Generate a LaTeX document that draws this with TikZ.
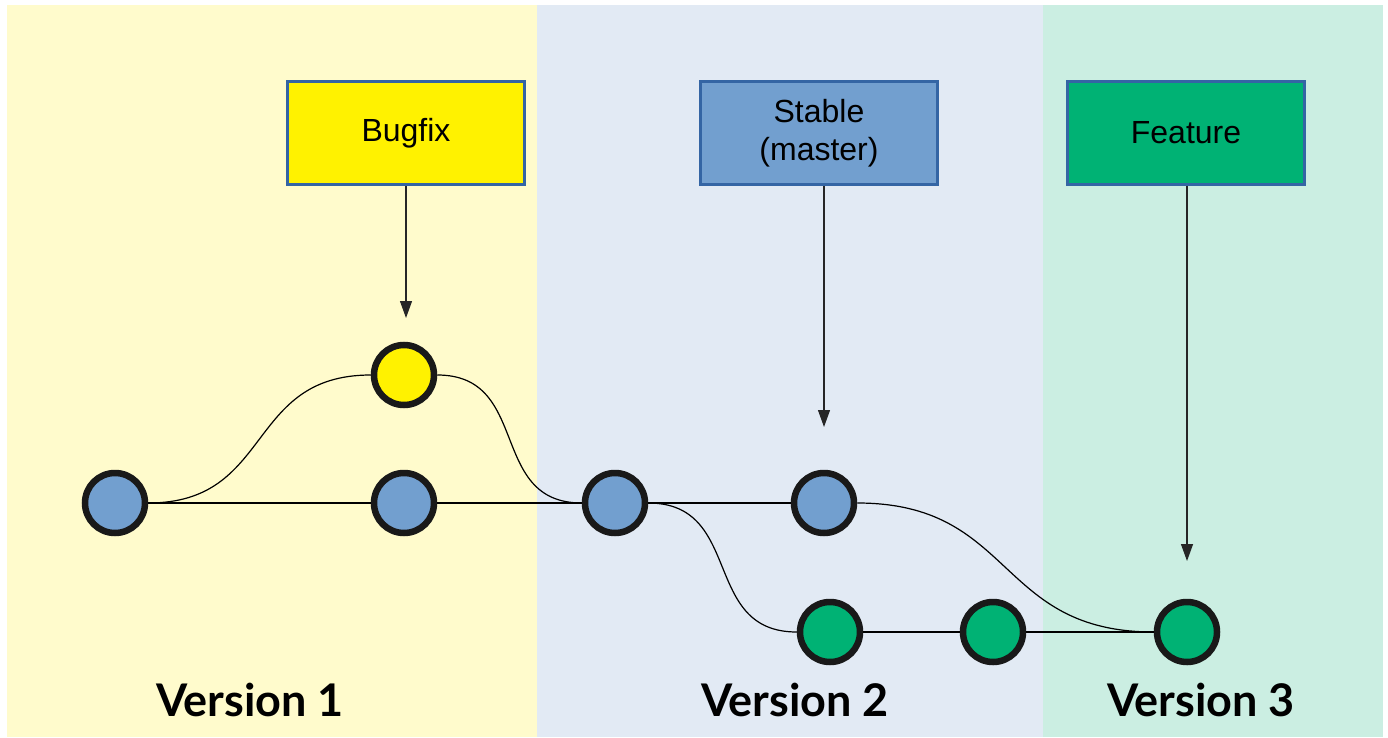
\documentclass[tikz,border=0pt]{standalone}
\usepackage{fontspec}
\setmainfont{Liberation Sans}
\newfontfamily\latofont{Lato}
\usetikzlibrary{positioning,arrows.meta}
\definecolor{bgyellow}{HTML}{FFFBCC}
\definecolor{bgblue}{HTML}{E2EAF4}
\definecolor{bggreen}{HTML}{CBEEE2}
\definecolor{nodeblue}{HTML}{729FCF}
\definecolor{nodeyellow}{HTML}{FFF200}
\definecolor{nodegreen}{HTML}{00B274}
\definecolor{frameblue}{HTML}{3465A4}
\tikzstyle{commit} = [circle, draw=black!90, line width=6.5pt, minimum size=60pt, inner sep=0pt]
\tikzstyle{branch} = [draw=frameblue, rectangle, line width=3pt, minimum height=103pt, minimum width=237pt, font=\fontsize{32}{38}\selectfont, align=center]
\tikzstyle{version} = [font=\latofont\bfseries\fontsize{45}{50}\selectfont]
\tikzstyle{link} = [line width=1.2pt, looseness=1.25]
\tikzstyle{pointer} = [line width=1.2pt, black!85, -{Triangle[length=17pt,width=12pt]}]

\begin{document}
\begin{tikzpicture}[x=1pt,y=-1pt]
		\useasboundingbox (0,0) rectangle (1388,738);
		\fill [bgyellow] (7,5) rectangle (537,737);
		\fill [bgblue] (537,5) rectangle (1043,737);
		\fill [bggreen] (1043,5) rectangle (1383,737);

		\node [commit, fill=nodeblue] (c1) at (115,503) {};
		\node [commit, fill=nodeblue] (c2) at (404,503) {};
		\node [commit, fill=nodeyellow] (fix) at (404,375) {};
		\node [commit, fill=nodeblue] (c3) at (615,503) {};
		\node [commit, fill=nodeblue] (c4) at (824,503) {};
		\node [commit, fill=nodegreen] (f1) at (830,632) {};
		\node [commit, fill=nodegreen] (f2) at (993,632) {};
		\node [commit, fill=nodegreen] (f3) at (1187,632) {};

		\node [branch, fill=nodeyellow] (bugfix) at (406,133) {Bugfix};
		\node [branch, fill=nodeblue] (stable) at (819,133) {Stable\\(master)};
		\node [branch, fill=nodegreen] (feature) at (1186,133) {Feature};

		\coordinate (bugtip) at (406,318);
		\coordinate (stabletip) at (824,427);
		\coordinate (featuretip) at (1187,561);

		\node [version] (v1) at (250,700) {Version 1};
		\node [version] (v2) at (795,700) {Version 2};
		\node [version] (v3) at (1201,700) {Version 3};

		\draw [link] (c1) -- (c2);
		\draw [link] (c2) -- (c3);
		\draw [link] (c3) -- (c4);
		\draw [link] (f1) -- (f2);
		\draw [link] (f2) -- (f3);
		\draw [link] (c1.east) to[out=0,in=180] (fix.west);
		\draw [link] (fix.east) to[out=0,in=180] (c3.west);
		\draw [link] (c3.east) to[out=0,in=180] (f1.west);
		\draw [link] (c4.east) to[out=0,in=180] (f3.west);

		\draw [pointer] (bugtip |- bugfix.south) -- (bugtip);
		\draw [pointer] (stabletip |- stable.south) -- (stabletip);
		\draw [pointer] (featuretip |- feature.south) -- (featuretip);
	\end{tikzpicture}
\end{document}
